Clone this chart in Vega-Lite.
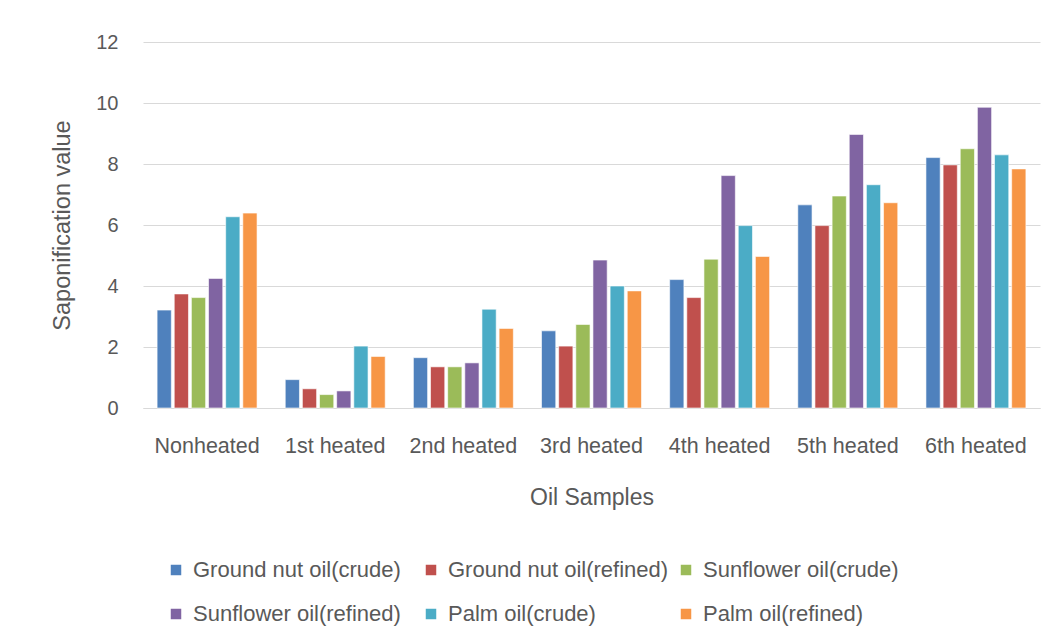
{
  "$schema": "https://vega.github.io/schema/vega-lite/v6.json",
  "autosize": {"type": "none"},
  "width": 897,
  "height": 366,
  "padding": {"left": 143, "top": 42, "right": 14, "bottom": 232},
  "background": "white",
  "data": {
    "values": [
      {"sample": "Nonheated", "oil": "Ground nut oil(crude)", "value": 3.21},
      {"sample": "Nonheated", "oil": "Ground nut oil(refined)", "value": 3.74},
      {"sample": "Nonheated", "oil": "Sunflower oil(crude)", "value": 3.62},
      {"sample": "Nonheated", "oil": "Sunflower oil(refined)", "value": 4.25},
      {"sample": "Nonheated", "oil": "Palm oil(crude)", "value": 6.27},
      {"sample": "Nonheated", "oil": "Palm oil(refined)", "value": 6.39},
      {"sample": "1st heated", "oil": "Ground nut oil(crude)", "value": 0.93},
      {"sample": "1st heated", "oil": "Ground nut oil(refined)", "value": 0.63},
      {"sample": "1st heated", "oil": "Sunflower oil(crude)", "value": 0.44},
      {"sample": "1st heated", "oil": "Sunflower oil(refined)", "value": 0.56},
      {"sample": "1st heated", "oil": "Palm oil(crude)", "value": 2.03},
      {"sample": "1st heated", "oil": "Palm oil(refined)", "value": 1.69},
      {"sample": "2nd heated", "oil": "Ground nut oil(crude)", "value": 1.65},
      {"sample": "2nd heated", "oil": "Ground nut oil(refined)", "value": 1.35},
      {"sample": "2nd heated", "oil": "Sunflower oil(crude)", "value": 1.35},
      {"sample": "2nd heated", "oil": "Sunflower oil(refined)", "value": 1.48},
      {"sample": "2nd heated", "oil": "Palm oil(crude)", "value": 3.24},
      {"sample": "2nd heated", "oil": "Palm oil(refined)", "value": 2.61},
      {"sample": "3rd heated", "oil": "Ground nut oil(crude)", "value": 2.53},
      {"sample": "3rd heated", "oil": "Ground nut oil(refined)", "value": 2.03},
      {"sample": "3rd heated", "oil": "Sunflower oil(crude)", "value": 2.74},
      {"sample": "3rd heated", "oil": "Sunflower oil(refined)", "value": 4.85},
      {"sample": "3rd heated", "oil": "Palm oil(crude)", "value": 4.0},
      {"sample": "3rd heated", "oil": "Palm oil(refined)", "value": 3.84},
      {"sample": "4th heated", "oil": "Ground nut oil(crude)", "value": 4.21},
      {"sample": "4th heated", "oil": "Ground nut oil(refined)", "value": 3.62},
      {"sample": "4th heated", "oil": "Sunflower oil(crude)", "value": 4.88},
      {"sample": "4th heated", "oil": "Sunflower oil(refined)", "value": 7.62},
      {"sample": "4th heated", "oil": "Palm oil(crude)", "value": 5.98},
      {"sample": "4th heated", "oil": "Palm oil(refined)", "value": 4.97},
      {"sample": "5th heated", "oil": "Ground nut oil(crude)", "value": 6.66},
      {"sample": "5th heated", "oil": "Ground nut oil(refined)", "value": 5.98},
      {"sample": "5th heated", "oil": "Sunflower oil(crude)", "value": 6.95},
      {"sample": "5th heated", "oil": "Sunflower oil(refined)", "value": 8.97},
      {"sample": "5th heated", "oil": "Palm oil(crude)", "value": 7.32},
      {"sample": "5th heated", "oil": "Palm oil(refined)", "value": 6.73},
      {"sample": "6th heated", "oil": "Ground nut oil(crude)", "value": 8.21},
      {"sample": "6th heated", "oil": "Ground nut oil(refined)", "value": 7.97},
      {"sample": "6th heated", "oil": "Sunflower oil(crude)", "value": 8.5},
      {"sample": "6th heated", "oil": "Sunflower oil(refined)", "value": 9.86},
      {"sample": "6th heated", "oil": "Palm oil(crude)", "value": 8.3},
      {"sample": "6th heated", "oil": "Palm oil(refined)", "value": 7.84}
    ]
  },
  "mark": {"type": "bar", "stroke": "white", "strokeOpacity": 0.6, "strokeWidth": 1},
  "encoding": {
    "x": {
      "field": "sample",
      "type": "nominal",
      "sort": ["Nonheated", "1st heated", "2nd heated", "3rd heated", "4th heated", "5th heated", "6th heated"],
      "scale": {"paddingInner": 0.22, "paddingOuter": 0.11},
      "axis": {
        "title": "Oil Samples",
        "labelAngle": 0,
        "labelFontSize": 21.5,
        "labelColor": "#595959",
        "labelPadding": 27,
        "ticks": false,
        "domainColor": "#D9D9D9",
        "titleFontSize": 23,
        "titleFontWeight": "normal",
        "titleColor": "#595959",
        "titlePadding": 30
      }
    },
    "xOffset": {
      "field": "oil",
      "type": "nominal",
      "sort": ["Ground nut oil(crude)", "Ground nut oil(refined)", "Sunflower oil(crude)", "Sunflower oil(refined)", "Palm oil(crude)", "Palm oil(refined)"],
      "scale": {"paddingInner": 0.17}
    },
    "y": {
      "field": "value",
      "type": "quantitative",
      "scale": {"domain": [0, 12], "nice": false},
      "axis": {
        "title": "Saponification value",
        "values": [0, 2, 4, 6, 8, 10, 12],
        "domain": false,
        "ticks": false,
        "gridColor": "#D9D9D9",
        "labelFontSize": 20,
        "labelColor": "#595959",
        "labelPadding": 25,
        "titleFontSize": 23.5,
        "titleFontWeight": "normal",
        "titleColor": "#595959",
        "titlePadding": 21
      }
    },
    "color": {
      "field": "oil",
      "type": "nominal",
      "scale": {
        "domain": ["Ground nut oil(crude)", "Ground nut oil(refined)", "Sunflower oil(crude)", "Sunflower oil(refined)", "Palm oil(crude)", "Palm oil(refined)"],
        "range": ["#4F81BD", "#C0504D", "#9BBB59", "#8064A2", "#4BACC6", "#F79646"]
      },
      "legend": {
        "title": null,
        "orient": "none",
        "legendX": 22,
        "legendY": 517,
        "direction": "horizontal",
        "columns": 3,
        "gridAlign": "all",
        "columnPadding": 6,
        "rowPadding": 22,
        "padding": 0,
        "symbolType": "square",
        "symbolSize": 110,
        "symbolStrokeWidth": 0,
        "labelFontSize": 22,
        "labelColor": "#595959",
        "labelOffset": 6,
        "labelLimit": 400
      }
    }
  },
  "config": {
    "font": "Liberation Sans",
    "view": {"stroke": null}
  }
}
